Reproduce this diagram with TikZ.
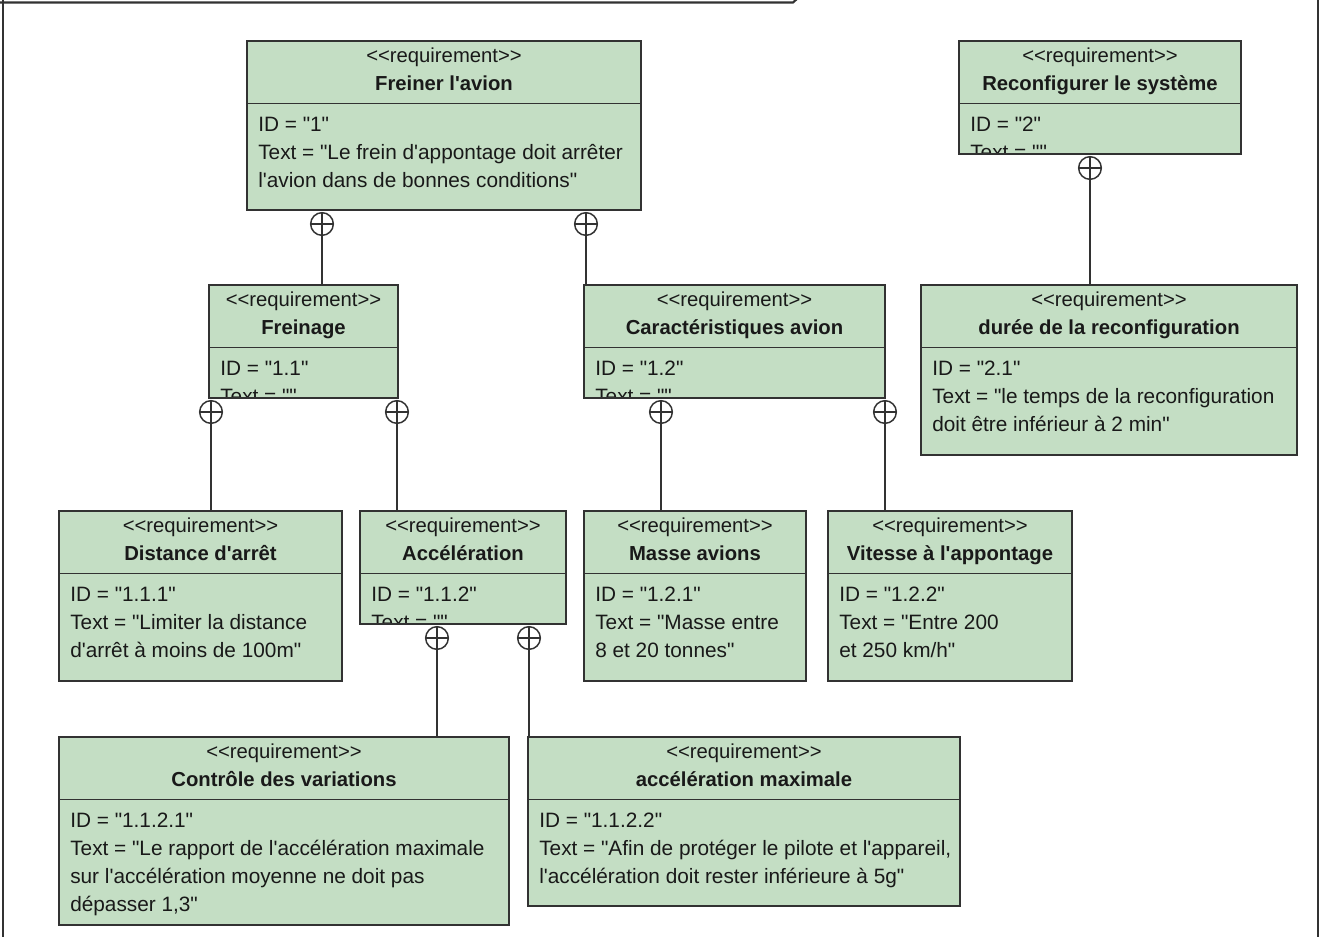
\documentclass[tikz,border=0pt]{standalone}
\usepackage{fontspec}
\newfontfamily\rf{Liberation Sans}
\usetikzlibrary{calc}
\definecolor{reqfill}{RGB}{196,222,196}
\definecolor{reqline}{RGB}{50,50,50}
\definecolor{reqtext}{RGB}{25,25,25}
\tikzset{
  reqbox/.style={draw=reqline, fill=reqfill, line width=1.4pt, inner sep=0pt, outer sep=0pt, anchor=north west},
  reqedge/.style={draw=reqline, line width=1.4pt},
  reqsep/.style={draw=reqline, line width=1.4pt},
  stereo/.style={font=\rf\fontsize{15.2}{18}\selectfont, text=reqtext, inner sep=0pt, anchor=base},
  reqtitle/.style={font=\rf\bfseries\fontsize{15.2}{18}\selectfont, text=reqtext, inner sep=0pt, anchor=base},
  bodytext/.style={font=\rf\fontsize{15.6}{18}\selectfont, text=reqtext, inner sep=0pt, anchor=base west},
  conn/.style={draw=reqline, line width=1.1pt},
  frameline/.style={draw=reqline, line width=1.6pt},
}
\newcommand{\ReqBox}[6]{%
  \node[reqbox, minimum width={(#4-#2)*0.75pt}, minimum height={(#5-#3)*0.75pt}] (#1) at (#2,#3) {};
  \draw[reqsep] (#2,#3+62.5) coordinate (#1-sl) -- (#4,#3+62.5) coordinate (#1-sr);
  \node[stereo] (#1-st) at ({(#2+#4)/2},#3+21) {<<requirement>>};
  \node[reqtitle] (#1-ti) at ({(#2+#4)/2},#3+49) {#6};
}
\newcommand{\ReqLine}[3]{%
  \begin{scope}
    \clip (#1.north west) rectangle (#1.south east);
    \node[bodytext] (#1-l#2) at ($(#1.north west)+(11,90.5+28*#2)$) {#3};
  \end{scope}}
\newcommand{\ReqClose}[1]{%
  \draw[reqedge] (#1.north west) rectangle (#1.south east);}
\newcommand{\Contain}[3]{%
  \path (#3,0 |- #1.south) coordinate (#1-#2-a) (#3,0 |- #2.north) coordinate (#1-#2-b);
  \path (#1-#2-a) ++(0,14) coordinate (#1-#2-o);
  \draw[conn] (#1-#2-o) circle[radius=8.5pt];
  \draw[conn] (#1-#2-o) ++(-11.3,0) -- ++(22.6,0);
  \draw[conn] (#1-#2-o) ++(0,-11.3) -- (#1-#2-b);
}
\begin{document}
\begin{tikzpicture}[x=0.75pt, y=-0.75pt]
\useasboundingbox (0,0) rectangle (1321,936);
\fill[white] (0,0) rectangle (1321,936);
% frame
\draw[frameline] (3,-5) -- (3,940);
\draw[frameline] (1318,-5) -- (1318,940);
\draw[frameline] (0,2.5) -- (793,2.5) -- (798,-2);

% boxes
\ReqBox{frein}{247}{41}{641}{210}{Freiner l'avion}
\ReqLine{frein}{0}{ID = "1"}
\ReqLine{frein}{1}{Text = "Le frein d'appontage doit arrêter}
\ReqLine{frein}{2}{l'avion dans de bonnes conditions"}
\ReqClose{frein}

\ReqBox{reconf}{959}{41}{1241}{154}{Reconfigurer le système}
\ReqLine{reconf}{0}{ID = "2"}
\ReqLine{reconf}{1}{Text = ""}
\ReqClose{reconf}

\ReqBox{freinage}{209}{285}{398}{398}{Freinage}
\ReqLine{freinage}{0}{ID = "1.1"}
\ReqLine{freinage}{1}{Text = ""}
\ReqClose{freinage}

\ReqBox{caract}{584}{285}{885}{398}{Caractéristiques avion}
\ReqLine{caract}{0}{ID = "1.2"}
\ReqLine{caract}{1}{Text = ""}
\ReqClose{caract}

\ReqBox{duree}{921}{285}{1297}{455}{durée de la reconfiguration}
\ReqLine{duree}{0}{ID = "2.1"}
\ReqLine{duree}{1}{Text = "le temps de la reconfiguration}
\ReqLine{duree}{2}{doit être inférieur à 2 min"}
\ReqClose{duree}

\ReqBox{dist}{59}{511}{342}{681}{Distance d'arrêt}
\ReqLine{dist}{0}{ID = "1.1.1"}
\ReqLine{dist}{1}{Text = "Limiter la distance}
\ReqLine{dist}{2}{d'arrêt à moins de 100m"}
\ReqClose{dist}

\ReqBox{accel}{360}{511}{566}{624}{Accélération}
\ReqLine{accel}{0}{ID = "1.1.2"}
\ReqLine{accel}{1}{Text = ""}
\ReqClose{accel}

\ReqBox{masse}{584}{511}{806}{681}{Masse avions}
\ReqLine{masse}{0}{ID = "1.2.1"}
\ReqLine{masse}{1}{Text = "Masse entre}
\ReqLine{masse}{2}{8 et 20 tonnes"}
\ReqClose{masse}

\ReqBox{vitesse}{828}{511}{1072}{681}{Vitesse à l'appontage}
\ReqLine{vitesse}{0}{ID = "1.2.2"}
\ReqLine{vitesse}{1}{Text = "Entre 200}
\ReqLine{vitesse}{2}{et 250 km/h"}
\ReqClose{vitesse}

\ReqBox{controle}{59}{737}{509}{925}{Contrôle des variations}
\ReqLine{controle}{0}{ID = "1.1.2.1"}
\ReqLine{controle}{1}{Text = "Le rapport de l'accélération maximale}
\ReqLine{controle}{2}{sur l'accélération moyenne ne doit pas}
\ReqLine{controle}{3}{dépasser 1,3"}
\ReqClose{controle}

\ReqBox{accmax}{528}{737}{960}{906}{accélération maximale}
\ReqLine{accmax}{0}{ID = "1.1.2.2"}
\ReqLine{accmax}{1}{Text = "Afin de protéger le pilote et l'appareil,}
\ReqLine{accmax}{2}{l'accélération doit rester inférieure à 5g"}
\ReqClose{accmax}

% containment connectors
\Contain{frein}{freinage}{322}
\Contain{frein}{caract}{586}
\Contain{reconf}{duree}{1090}
\Contain{freinage}{dist}{211}
\Contain{freinage}{accel}{397}
\Contain{caract}{masse}{661}
\Contain{caract}{vitesse}{885}
\Contain{accel}{controle}{437}
\Contain{accel}{accmax}{529}
\end{tikzpicture}
\end{document}
